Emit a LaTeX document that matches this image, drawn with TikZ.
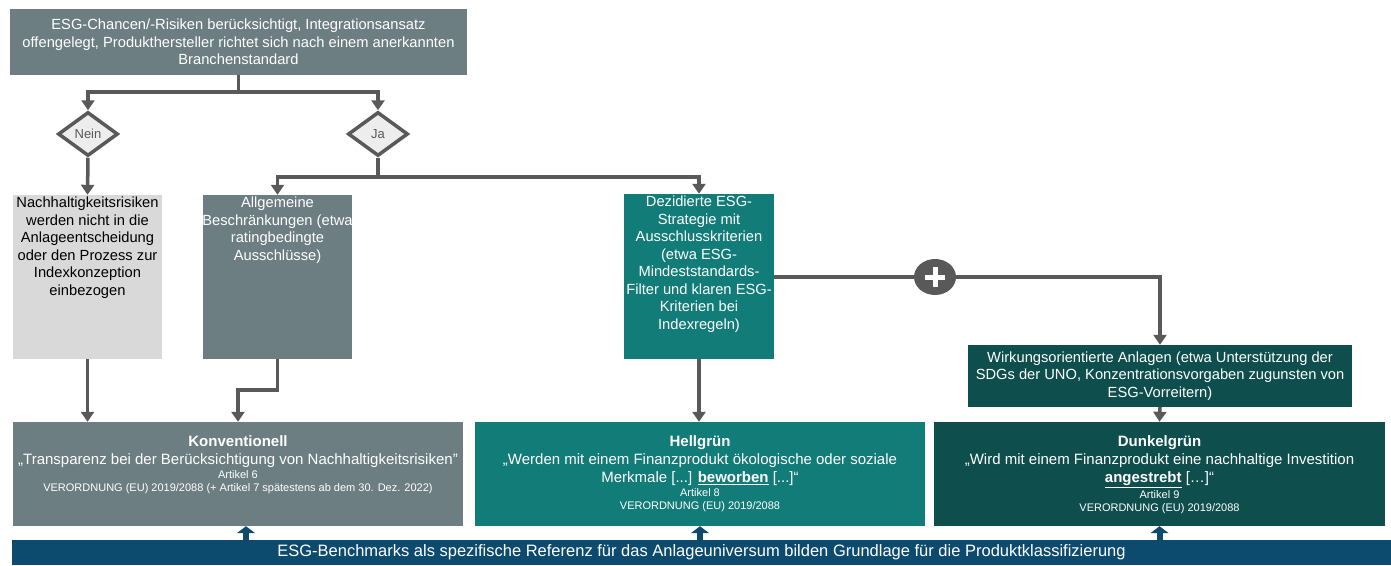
\documentclass[tikz,border=0pt]{standalone}
\usepackage{fontspec}
\setmainfont{Liberation Sans}
\usetikzlibrary{shapes.geometric, arrows.meta, positioning, calc}
\definecolor{slate}{HTML}{6D7E83}
\definecolor{lightbox}{HTML}{D9D9D9}
\definecolor{teal}{HTML}{127C79}
\definecolor{darkteal}{HTML}{0E4E4D}
\definecolor{navy}{HTML}{0C4A6E}
\definecolor{linegray}{HTML}{595959}
\definecolor{diafill}{HTML}{EDEDED}
\newcommand{\boxtext}[4]{\parbox[c][#2][t]{#1}{\centering\vspace*{#3}#4}}
\newcommand{\quotetxt}{\fontsize{15}{18}\selectfont}
\newcommand{\smalltxt}{\vspace{1pt}\fontsize{11}{13}\selectfont}

\begin{document}
\begin{tikzpicture}[x=1pt,y=-1pt,
  box/.style={rectangle, inner sep=0pt, text=white, font=\fontsize{14.7}{17.5}\selectfont},
  decide/.style={diamond, draw=linegray, line width=3.5pt, fill=diafill, minimum width=60pt,
    minimum height=44pt, inner sep=0pt, text=linegray, font=\fontsize{13}{15}\selectfont},
  conn/.style={draw=linegray, line width=3.5pt},
  arr/.style={conn, -{Triangle[width=13pt,length=10pt]}},
  uparr/.style={draw=navy, line width=6pt, -{Triangle[width=18pt,length=7pt]}}]
\useasboundingbox (0,0) rectangle (1391,565);
% question and decision
\node[box, fill=slate, minimum width=457pt, minimum height=66pt, align=center] (crit) at (238.5,42)
  {ESG-Chancen/-Risiken berücksichtigt, Integrationsansatz\\ offengelegt, Produkthersteller richtet sich nach einem anerkannten\\ Branchenstandard};
\node[decide] (nein) at (88,134) {Nein};
\node[decide] (ja) at (378,134) {Ja};
% strategies
\node[box, fill=lightbox, text=black, minimum width=149pt, minimum height=164pt] (nrisk) at (87.5,277)
  {\boxtext{149pt}{160pt}{0pt}{Nachhaltigkeitsrisiken\\ werden nicht in die\\ Anlageentscheidung\\ oder den Prozess zur\\ Indexkonzeption\\ einbezogen}};
\node[box, fill=slate, minimum width=149pt, minimum height=164pt] (allg) at (277.5,277)
  {\boxtext{149pt}{160pt}{0pt}{Allgemeine\\ \makebox[0pt]{Beschränkungen (etwa}\\ ratingbedingte\\ Ausschlüsse)}};
\node[box, fill=teal, minimum width=150pt, minimum height=165pt] (dez) at (699,276.5)
  {\boxtext{150pt}{161pt}{0pt}{Dezidierte ESG-\\ Strategie mit\\ Ausschlusskriterien\\ (etwa ESG-\\ Mindeststandards-\\ Filter und klaren ESG-\\ Kriterien bei\\ Indexregeln)}};
\node[ellipse, fill=linegray, minimum width=42pt, minimum height=36pt, inner sep=0pt] (plus) at (935,277) {};
\node[box, fill=darkteal, minimum width=384pt, minimum height=62pt, align=center] (wirk) at (1160,376)
  {Wirkungsorientierte Anlagen (etwa Unterstützung der\\ SDGs der UNO, Konzentrationsvorgaben zugunsten von\\ ESG-Vorreitern)};
% classification
\node[box, fill=slate, minimum width=450pt, minimum height=104pt] (konv) at (238,474)
  {\boxtext{446pt}{100pt}{12pt}{\quotetxt{\bfseries Konventionell}\par
  „Transparenz bei der Berücksichtigung von Nachhaltigkeitsrisiken"\par
  {\smalltxt Artikel 6\par VERORDNUNG (EU) 2019/2088 (+ Artikel 7 spätestens ab dem 30. Dez. 2022)\par}}};
\node[box, fill=teal, minimum width=450pt, minimum height=104pt] (hell) at (700,474)
  {\boxtext{446pt}{100pt}{12pt}{\quotetxt{\bfseries Hellgrün}\par
  „Werden mit einem Finanzprodukt ökologische oder soziale\\ Merkmale [...] \underline{\textbf{beworben}} [...]“\par
  {\smalltxt Artikel 8\par VERORDNUNG (EU) 2019/2088\par}}};
\node[box, fill=darkteal, minimum width=451pt, minimum height=104pt] (dunkel) at (1159.5,474)
  {\boxtext{447pt}{100pt}{12pt}{\quotetxt{\bfseries Dunkelgrün}\par
  „Wird mit einem Finanzprodukt eine nachhaltige Investition\\ \underline{\textbf{angestrebt}} […]“\par
  {\smalltxt Artikel 9\par VERORDNUNG (EU) 2019/2088\par}}};
\node[box, fill=navy, minimum width=1379pt, minimum height=25pt, font=\fontsize{16.5}{18}\selectfont] (band) at (701.5,552.5)
  {ESG-Benchmarks als spezifische Referenz für das Anlageuniversum bilden Grundlage für die Produktklassifizierung};
% connectors
\coordinate (topsplit) at ($(crit.south)+(0,17)$);
\coordinate (jasplit) at ($(ja.south)+(0,19)$);
\draw[conn] (crit.south) -- (topsplit);
\draw[arr] (topsplit) -| (nein.north);
\draw[arr] (topsplit) -| (ja.north);
\draw[arr] (nein.south) -- (nrisk.north);
\draw[conn] (ja.south) -- (jasplit);
\draw[arr] (jasplit) -| (allg.north);
\draw[arr] (jasplit) -| (dez.north);
\draw[arr] (nrisk.south) -- (nrisk.south |- konv.north);
\draw[arr] (allg.south) -- ++(0,31) -| (konv.north);
\draw[arr] (dez.south) -- (dez.south |- hell.north);
\draw[conn] (plus.west -| dez.east) -- (plus.west);
\draw[arr] (plus.east) -| (wirk.north);
\draw[arr] (wirk.south) -- (dunkel.north);
\draw[white, line width=5pt] ($(plus)+(-10,0)$) -- ($(plus)+(10,0)$) ($(plus)+(0,-10)$) -- ($(plus)+(0,10)$);
% benchmark arrows
\draw[uparr] ($(konv.south |- band.north)+(8,0)$) -- ($(konv.south)+(8,0)$);
\draw[uparr] (hell.south |- band.north) -- (hell.south);
\draw[uparr] (dunkel.south |- band.north) -- (dunkel.south);
\end{tikzpicture}
\end{document}
